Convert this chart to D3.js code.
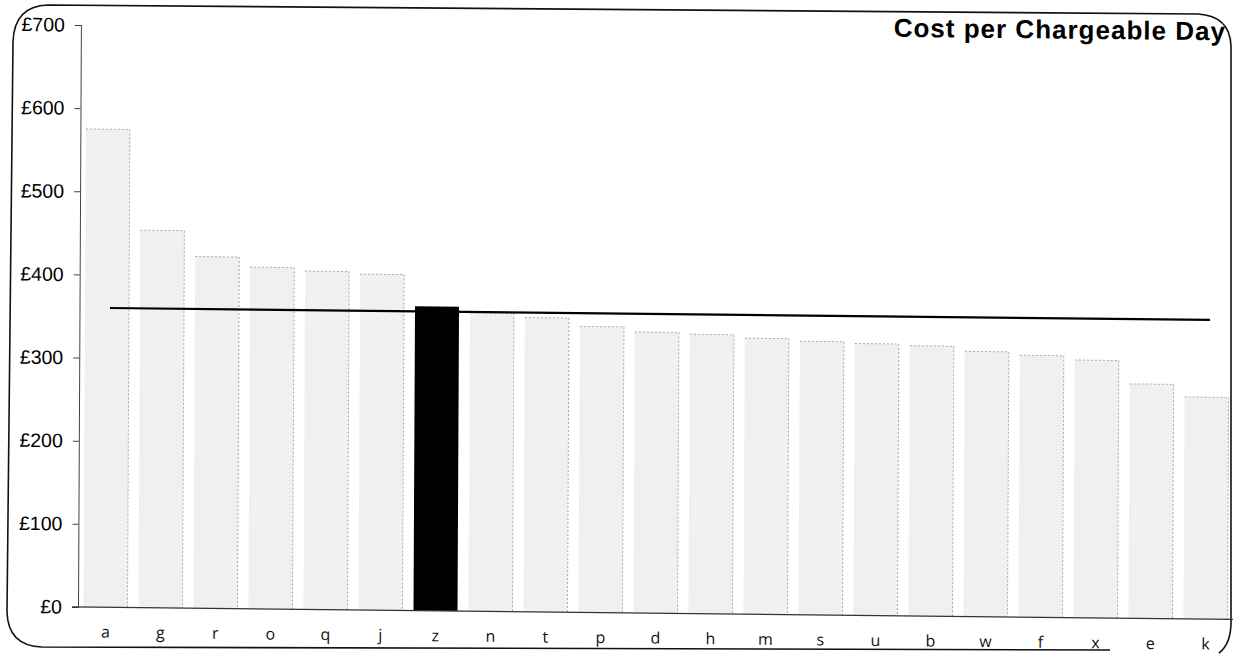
<!DOCTYPE html>
<html>
<head>
<meta charset="utf-8">
<script src="https://cdn.jsdelivr.net/npm/d3@7"></script>
<style>
  html, body { margin: 0; padding: 0; background: #fff; }
  svg { display: block; }
</style>
</head>
<body>
<svg id="chart" width="1244" height="655"></svg>
<script>
// Cost per chargeable day by unit, sorted high to low; unit "z" is highlighted.
const categories = ["a","g","r","o","q","j","z","n","t","p","d","h","m","s","u","b","w","f","x","e","k"];
const costs = [575, 454, 423, 411, 407, 404, 366, 359, 354, 344, 338, 336, 332, 329, 327, 325, 319, 315, 310, 282, 267];
const averageCost = 360;
const highlighted = "z";
const yTickValues = [0, 100, 200, 300, 400, 500, 600, 700];
const title = "Cost per Chargeable Day";

const svg = d3.select("#chart");
const plotLeft = 78, plotRight = 1233, plotBottom = 607, plotTop = 25;

// rounded frame around the chart (the sheet is slightly skewed)
const frame = d3.path();
frame.moveTo(13, 42);
frame.quadraticCurveTo(14, 6, 48, 5);
frame.lineTo(1198, 14);
frame.quadraticCurveTo(1230, 16, 1231, 46);
frame.lineTo(1231, 622);
frame.quadraticCurveTo(1231, 644, 1219, 653);
frame.moveTo(1110, 650);
frame.lineTo(42, 647);
frame.quadraticCurveTo(8, 646, 7, 612);
frame.lineTo(13, 42);
svg.append("path")
  .attr("d", frame.toString())
  .attr("fill", "none")
  .attr("stroke", "#111")
  .attr("stroke-width", 1.6);

const page = svg.append("g")
  .attr("transform", `translate(${plotLeft},${plotBottom}) matrix(1,0.0108,-0.005,1,0,0) translate(${-plotLeft},${-plotBottom})`);

const x = d3.scaleBand()
  .domain(categories)
  .range([plotLeft, plotRight])
  .paddingInner(0.2)
  .paddingOuter(0.1);

const y = d3.scaleLinear()
  .domain([0, 700])
  .range([plotBottom, plotTop]);

const rows = categories.map((c, i) => ({ cat: c, value: costs[i] }));

// bars
const bars = page.append("g").selectAll("g")
  .data(rows)
  .join("g");

bars.append("rect")
  .attr("x", d => x(d.cat))
  .attr("y", d => y(d.value))
  .attr("width", x.bandwidth())
  .attr("height", d => y(0) - y(d.value))
  .attr("fill", d => d.cat === highlighted ? "#000" : "#f0f0f0");

// faint outline along top and right side of the grey bars
bars.filter(d => d.cat !== highlighted).append("path")
  .attr("d", d => `M${x(d.cat)},${y(d.value)}H${x(d.cat) + x.bandwidth()}V${y(0)}`)
  .attr("fill", "none")
  .attr("stroke", "#a8a8a8")
  .attr("stroke-width", 1)
  .attr("stroke-dasharray", "2,2");

// average line
page.append("line")
  .attr("x1", x(categories[0]) + x.bandwidth() / 2 + 3)
  .attr("x2", x(categories[categories.length - 1]) + x.bandwidth() / 2 + 3)
  .attr("y1", y(averageCost))
  .attr("y2", y(averageCost))
  .attr("stroke", "#000")
  .attr("stroke-width", 2.2);

// y axis
const yAxis = page.append("g")
  .attr("transform", `translate(${plotLeft},0)`)
  .call(d3.axisLeft(y)
    .tickValues(yTickValues)
    .tickFormat(d => "£" + d)
    .tickSize(6)
    .tickPadding(10));
yAxis.select(".domain").attr("stroke", "#444");
yAxis.selectAll(".tick line").attr("stroke", "#444");
yAxis.selectAll("text")
  .attr("fill", "#000")
  .style("font-family", "'Liberation Sans', Arial, sans-serif")
  .style("font-size", "19.5px");

// x axis
const xAxis = page.append("g")
  .attr("transform", `translate(0,${plotBottom})`)
  .call(d3.axisBottom(x).tickSize(0).tickPadding(19));
xAxis.select(".domain")
  .attr("d", `M${plotLeft - 6},0H${plotRight}`)
  .attr("stroke", "#333")
  .attr("stroke-width", 1.2);
xAxis.selectAll("text")
  .attr("fill", "#111")
  .style("font-family", "'Open Sans', sans-serif")
  .style("font-size", "16px");

// title
page.append("text")
  .attr("x", 1223)
  .attr("y", 28)
  .attr("text-anchor", "end")
  .style("font-family", "'Liberation Sans', Arial, sans-serif")
  .style("font-weight", "bold")
  .style("font-size", "26px")
  .style("letter-spacing", "1px")
  .attr("fill", "#000")
  .text(title);
</script>
</body>
</html>
